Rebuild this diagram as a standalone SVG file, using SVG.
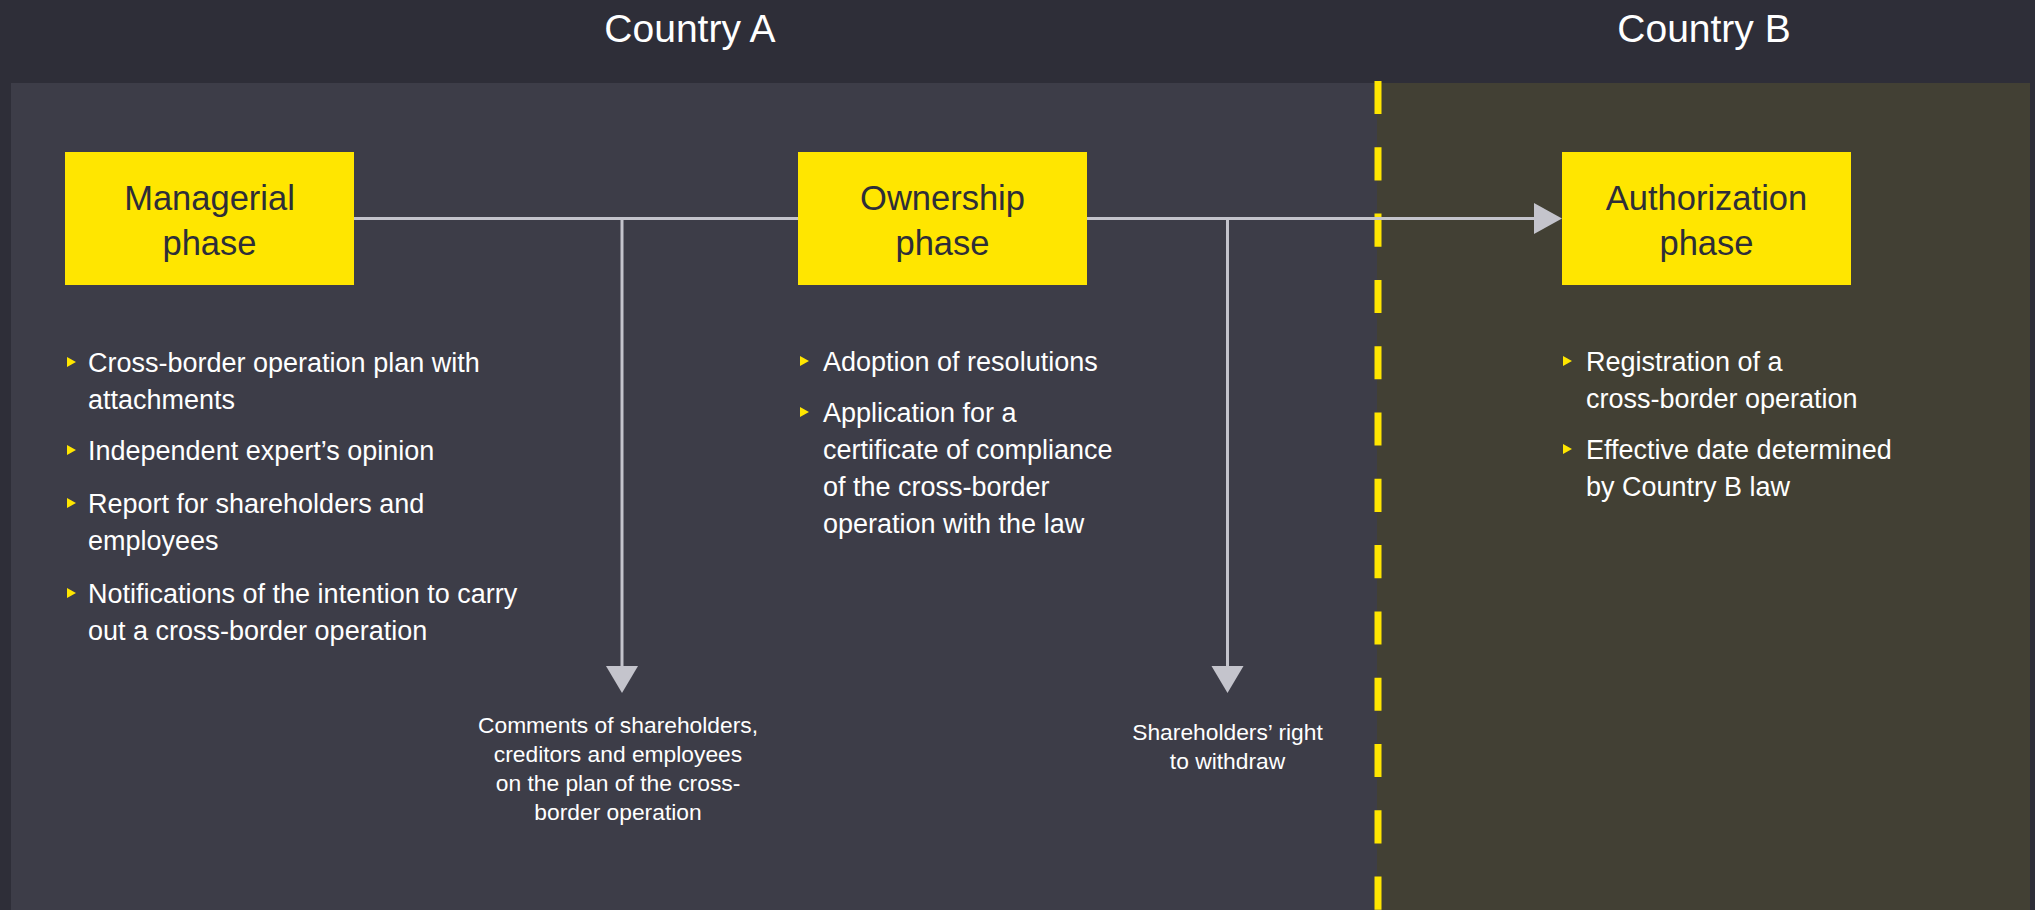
<svg xmlns="http://www.w3.org/2000/svg" width="2035" height="910" viewBox="0 0 2035 910">
  <style>
    .hdr { font-family: "Liberation Sans", Arial, sans-serif; font-size: 39px; fill: #ffffff; text-anchor: middle; }
    .box { fill: #ffe600; }
    .boxtxt { font-family: "Liberation Sans", Arial, sans-serif; font-size: 34.5px; fill: #2e2e38; text-anchor: middle; }
    .bul { font-family: "Liberation Sans", Arial, sans-serif; font-size: 27px; fill: #ffffff; }
    .lbl { font-family: "Liberation Sans", Arial, sans-serif; font-size: 22.8px; fill: #ffffff; text-anchor: middle; }
    .tri { fill: #ffe600; }
    .conn { stroke: #c4c4cc; stroke-width: 3; fill: none; }
    .head { fill: #c4c4cc; }
  </style>
  <defs>
    <path id="bt" d="M0,0 L9,5 L0,10 Z"/>
  </defs>

  <rect x="0" y="0" width="2035" height="910" fill="#2e2e38"/>
  <g id="countryA">
    <rect x="11" y="83" width="1367" height="827" fill="#3d3d48"/>
    <text class="hdr" x="690" y="42">Country A</text>
  </g>
  <g id="countryB">
    <rect x="1377" y="83" width="653" height="827" fill="#424034"/>
    <text class="hdr" x="1704" y="42">Country B</text>
  </g>
  <g id="border">
    <line x1="1378" y1="81" x2="1378" y2="910" stroke="#ffe600" stroke-width="7" stroke-dasharray="33.1 33.2"/>
  </g>

  <g id="connectors">
    <line class="conn" x1="354" y1="218.5" x2="798" y2="218.5"/>
    <line class="conn" x1="1087" y1="218.5" x2="1536" y2="218.5"/>
    <polygon class="head" points="1534,203 1562,218.5 1534,234"/>
    <line class="conn" x1="622" y1="218.5" x2="622" y2="668"/>
    <polygon class="head" points="606,666 638,666 622,693"/>
    <line class="conn" x1="1227.5" y1="218.5" x2="1227.5" y2="668"/>
    <polygon class="head" points="1211.5,666 1243.5,666 1227.5,693"/>
  </g>

  <g id="managerial">
    <rect class="box" x="65" y="152" width="289" height="133"/>
    <text class="boxtxt" x="209.5" y="210">Managerial</text>
    <text class="boxtxt" x="209.5" y="255">phase</text>
  </g>
  <g id="ownership">
    <rect class="box" x="798" y="152" width="289" height="133"/>
    <text class="boxtxt" x="942.5" y="210">Ownership</text>
    <text class="boxtxt" x="942.5" y="255">phase</text>
  </g>
  <g id="authorization">
    <rect class="box" x="1562" y="152" width="289" height="133"/>
    <text class="boxtxt" x="1706.5" y="210">Authorization</text>
    <text class="boxtxt" x="1706.5" y="255">phase</text>
  </g>

  <g id="managerial-items">
    <use href="#bt" class="tri" x="67" y="357"/>
    <text class="bul" x="88" y="372">Cross-border operation plan with</text>
    <text class="bul" x="88" y="408.5">attachments</text>
    <use href="#bt" class="tri" x="67" y="445"/>
    <text class="bul" x="88" y="460">Independent expert’s opinion</text>
    <use href="#bt" class="tri" x="67" y="498"/>
    <text class="bul" x="88" y="513">Report for shareholders and</text>
    <text class="bul" x="88" y="549.5">employees</text>
    <use href="#bt" class="tri" x="67" y="588"/>
    <text class="bul" x="88" y="603">Notifications of the intention to carry</text>
    <text class="bul" x="88" y="639.5">out a cross-border operation</text>
  </g>

  <g id="ownership-items">
    <use href="#bt" class="tri" x="800" y="356"/>
    <text class="bul" x="823" y="371">Adoption of resolutions</text>
    <use href="#bt" class="tri" x="800" y="407"/>
    <text class="bul" x="823" y="422">Application for a</text>
    <text class="bul" x="823" y="459">certificate of compliance</text>
    <text class="bul" x="823" y="496">of the cross-border</text>
    <text class="bul" x="823" y="533">operation with the law</text>
  </g>

  <g id="authorization-items">
    <use href="#bt" class="tri" x="1563" y="356"/>
    <text class="bul" x="1586" y="371">Registration of a</text>
    <text class="bul" x="1586" y="408">cross-border operation</text>
    <use href="#bt" class="tri" x="1563" y="444"/>
    <text class="bul" x="1586" y="459">Effective date determined</text>
    <text class="bul" x="1586" y="496">by Country B law</text>
  </g>

  <g id="comments">
    <text class="lbl" x="618" y="733">Comments of shareholders,</text>
    <text class="lbl" x="618" y="762">creditors and employees</text>
    <text class="lbl" x="618" y="791">on the plan of the cross-</text>
    <text class="lbl" x="618" y="820">border operation</text>
  </g>
  <g id="withdraw">
    <text class="lbl" x="1227.5" y="740">Shareholders’ right</text>
    <text class="lbl" x="1227.5" y="769">to withdraw</text>
  </g>
</svg>
